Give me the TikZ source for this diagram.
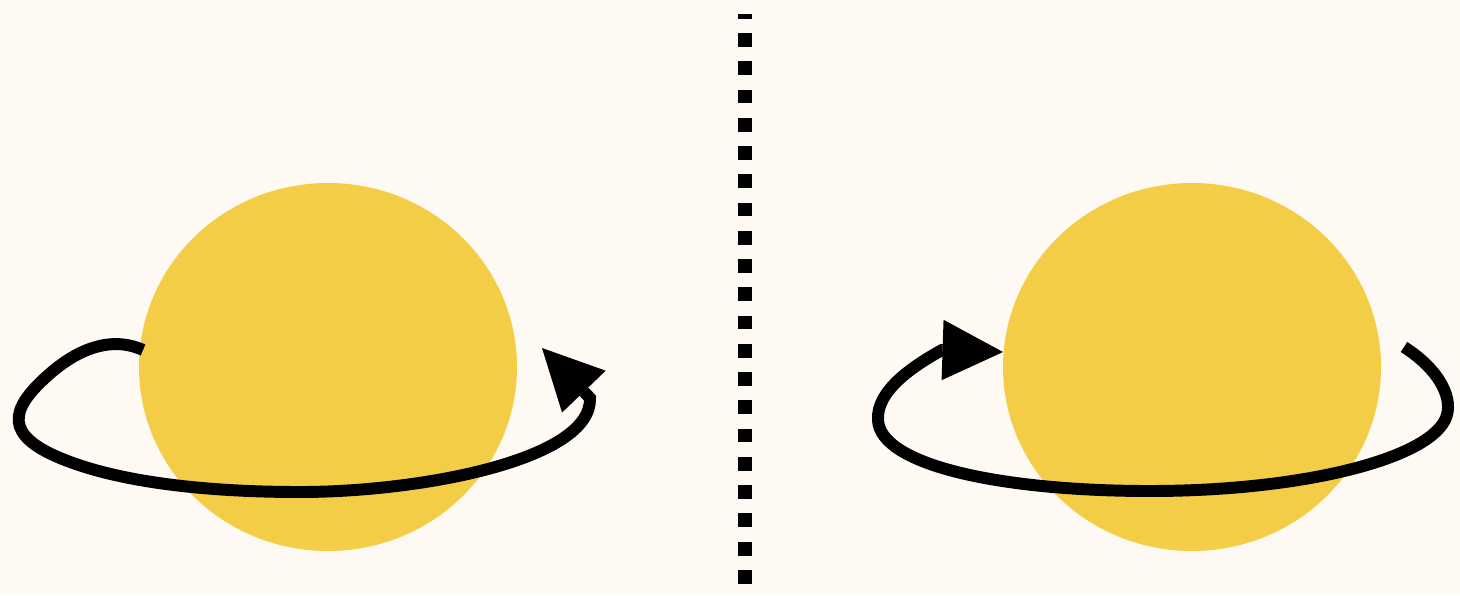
\documentclass[tikz,border=0pt]{standalone}
\usetikzlibrary{arrows.meta}
\definecolor{Cream}{HTML}{FEF9F3}
\definecolor{PlanetGold}{HTML}{F4CD47}
\tikzset{
  planet/.style={fill=PlanetGold},
  orbit/.style={line width=8.5pt, -{Triangle[length=43pt, width=43pt, line width=0pt]}},
  divider/.style={line width=10pt, dash pattern=on 9.8pt off 10.3pt, dash phase=6.6pt}
}

\begin{document}
\begin{tikzpicture}[x=0.025cm, y=-0.025cm]
  % canvas
  \fill[Cream] (0,0) rectangle (1460,595);
  \useasboundingbox (0,0) rectangle (1460,595);

  % planets
  \fill[planet] (328,367) ellipse [x radius=189, y radius=184];
  \fill[planet] (1192,367) ellipse [x radius=189, y radius=184];

  % left orbit, ends pointing back behind the planet
  \coordinate (tipL) at (542,348);
  \draw[orbit] (143,350) .. controls (110,335) and (75,350) .. (45,378)
    .. controls (10,410) and (5,435) .. (60,458)
    .. controls (115,481) and (200,492) .. (300,492)
    .. controls (420,492) and (592,460) .. (590,398) -- (tipL);

  % right orbit, ends pointing at the planet
  \coordinate (tipR) at (1003,352);
  \draw[orbit] (1404,347) .. controls (1440,370) and (1455,400) .. (1445,420)
    .. controls (1425,460) and (1300,491) .. (1150,491)
    .. controls (1000,491) and (880,465) .. (878,420)
    .. controls (876,390) and (915,365) .. (942,350) -- (tipR);

  % divider
  \coordinate (divTop) at (745,14);
  \coordinate (divBot) at (745,584);
  \draw[divider] (divTop) -- (divBot);
\end{tikzpicture}
\end{document}
